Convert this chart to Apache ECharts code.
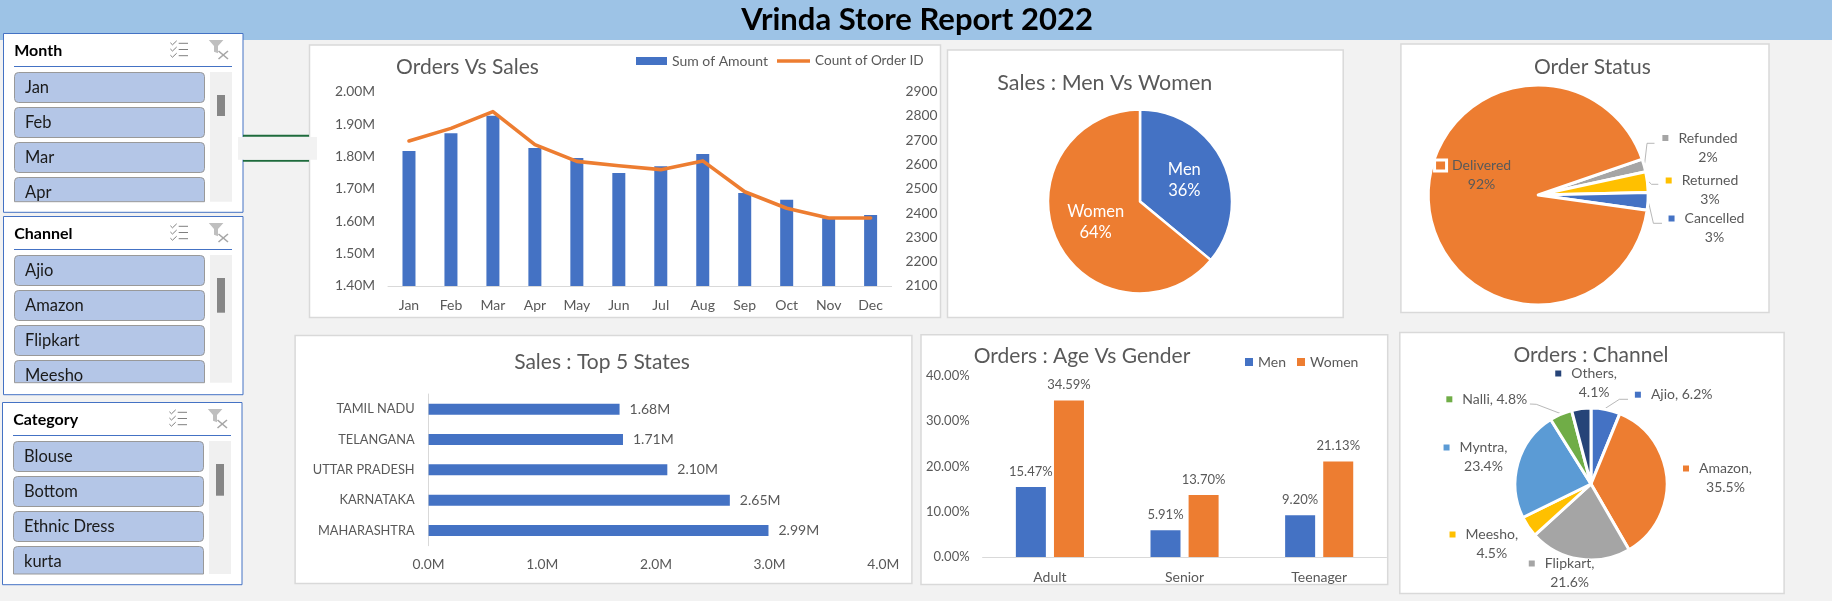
<!DOCTYPE html>
<html><head><meta charset="utf-8">
<script src="https://cdn.jsdelivr.net/npm/echarts@6/dist/echarts.min.js"></script>
<style>html,body{margin:0;padding:0;background:#F2F2F2}#c{width:1832px;height:601px}</style>
</head><body><div id="c"></div>
<script>
// ---- data ----
var months = ['Jan','Feb','Mar','Apr','May','Jun','Jul','Aug','Sep','Oct','Nov','Dec'];
var amount = [1817000,1872000,1926000,1826000,1795000,1749000,1770000,1808000,1687000,1666000,1609000,1619000];
var orders = [2697,2749,2818,2682,2613,2595,2579,2615,2488,2420,2380,2380];
var genderNames = ['Men','Women'];
var genderSales = [36,64];
var statusNames = ['Refunded','Returned','Cancelled','Delivered'];
var statusValues = [1.9,3.0,2.6,92.5];
var stateNames = ['TAMIL NADU','TELANGANA','UTTAR PRADESH','KARNATAKA','MAHARASHTRA'];
var stateSales = [1.68,1.71,2.10,2.65,2.99];
var ageGroups = ['Adult','Senior','Teenager'];
var ageMen = [15.47,5.91,9.20];
var ageWomen = [34.59,13.70,21.13];
var channelNames = ['Ajio','Amazon','Flipkart','Meesho','Myntra','Nalli','Others'];
var channelValues = [6.2,35.5,21.6,4.5,23.4,4.8,4.1];
var monthSlicer = ['Jan','Feb','Mar','Apr'];
var channelSlicer = ['Ajio','Amazon','Flipkart','Meesho'];
var categorySlicer = ['Blouse','Bottom','Ethnic Dress','kurta'];

// ---- style / layout ----
var FONT='Lato', TXT='#595959', BLUE='#4472C4', ORANGE='#ED7D31', EDGE='#D9D9D9';
var statusColors=['#A5A5A5','#FFC000',BLUE,ORANGE];
var channelColors=[BLUE,ORANGE,'#A5A5A5','#FFC000','#5B9BD5','#70AD47','#264478'];
var channelInline=['Ajio','Nalli'];
var statusLabelAt={Refunded:[1708,147.5,[[1644.7,163.3],[1647,143.3],[1654.5,143.3]]],
  Returned:[1710,190,[[1648.8,181.7],[1651.5,184.3],[1658.3,184.3]]],
  Cancelled:[1714.5,228,[[1648.8,203.3],[1653.4,223.3],[1662,223.3]]],
  Delivered:[1481.6,175]};
var channelLabelAt={Ajio:[1681.7,394.7,[[1605.4,408.3],[1619.4,399.3],[1628,399.3]]],
  Amazon:[1725.5,478],Flipkart:[1569.6,573],Meesho:[1491.8,544],Myntra:[1483.5,457],
  Nalli:[1494.8,399.3,[[1529.9,404],[1536.3,404.3],[1560.9,413.7]]],Others:[1594.1,383]};

function panel(x0,y0,x1,y1){return {type:'rect',silent:true,z:0,shape:{x:x0+.5,y:y0+.5,width:x1-x0,height:y1-y0},style:{fill:'#fff',stroke:EDGE,lineWidth:1.5}};}
var g=[];
g.push({type:'rect',silent:true,z:0,shape:{x:0,y:0,width:1832,height:40},style:{fill:'#9DC3E6'}});
[[309,44.5,940,317],[947,49.5,1342.7,317],[1400.4,43.5,1768.5,312],[294.6,335,911.4,583],[920.5,334.3,1387.2,584],[1399.3,332,1783.6,593]].forEach(function(p){g.push(panel(p[0],p[1],p[2],p[3]));});

function slicer(title,items,ox,oy,bottom,clipY,thumbY,thumbH){
  var z=1;
  g.push({type:'rect',silent:true,z:z,shape:{x:ox+3.5,y:oy+33.5,width:239.5,height:bottom-oy-33.5},style:{fill:'#fff',stroke:BLUE,lineWidth:1}});
  g.push({type:'text',silent:true,z:z,style:{x:ox+14.2,y:oy+50.7,text:title,fill:'#000',font:'bold 16px '+FONT,verticalAlign:'middle'}});
  g.push({type:'line',silent:true,z:z,shape:{x1:ox+14,y1:oy+66.5,x2:ox+232,y2:oy+66.5},style:{stroke:BLUE,lineWidth:1}});
  // track + thumb
  g.push({type:'rect',silent:true,z:z,shape:{x:ox+210,y:oy+72,width:22,height:clipY-oy-72},style:{fill:'#F0F0F0'}});
  g.push({type:'rect',silent:true,z:z,shape:{x:ox+217,y:thumbY,width:8,height:thumbH},style:{fill:'#868686'}});
  // buttons
  items.forEach(function(t,i){
    var y=oy+72.5+35*i, h=Math.min(30,clipY-y);
    g.push({type:'rect',silent:true,z:z,shape:{x:ox+14.5,y:y,width:190,height:h,r:h<30?[4,4,0,0]:4},style:{fill:'#B4C6E7',stroke:'#999999',lineWidth:1}});
    g.push({type:'text',silent:true,z:z,style:{x:ox+25,y:y+15,text:t,fill:'#1a1a1a',font:'16.5px '+FONT,verticalAlign:'middle'}});
  });
  // multi-select icon
  [43.3,49.5,55.7].forEach(function(ry){
    g.push({type:'polyline',silent:true,z:z,shape:{points:[[ox+170.4,oy+ry-.5],[ox+172.5,oy+ry+1.5],[ox+176.7,oy+ry-2.5]]},style:{stroke:'#7F7F7F',fill:null,lineWidth:1}});
    g.push({type:'line',silent:true,z:z,shape:{x1:ox+178.7,y1:oy+ry,x2:ox+188,y2:oy+ry},style:{stroke:'#7F7F7F',lineWidth:1}});
  });
  // clear-filter icon
  g.push({type:'polygon',silent:true,z:z,shape:{points:[[ox+208.8,oy+40],[ox+223.4,oy+40],[ox+218,oy+46],[ox+218,oy+53.3],[ox+214,oy+51.7],[ox+214,oy+46]]},style:{fill:'#BFBFBF'}});
  g.push({type:'line',silent:true,z:z,shape:{x1:ox+218.5,y1:oy+51,x2:ox+228,y2:oy+59},style:{stroke:'#A6A6A6',lineWidth:1.6}});
  g.push({type:'line',silent:true,z:z,shape:{x1:ox+228,y1:oy+51,x2:ox+218.5,y2:oy+59},style:{stroke:'#A6A6A6',lineWidth:1.6}});
}
slicer('Month',monthSlicer,0,0,212.3,201.7,95,21);
slicer('Channel',channelSlicer,0,183,394.7,382.7,278,34.7);
slicer('Category',categorySlicer,-1,369,584.7,574,464,31.7);

// slicer connector
g.push({type:'line',silent:true,z:1,shape:{x1:243,y1:135.7,x2:309,y2:135.7},style:{stroke:'#1E6B3C',lineWidth:2}});
g.push({type:'line',silent:true,z:1,shape:{x1:243,y1:160.7,x2:309,y2:160.7},style:{stroke:'#1E6B3C',lineWidth:2}});
g.push({type:'rect',silent:true,z:1,shape:{x:238,y:137,width:79,height:22.7},style:{fill:'#F2F2F2'}});

function ttl(text,cx,cy,size){return {text:text,left:cx,top:cy,padding:0,textAlign:'center',textVerticalAlign:'middle',textStyle:{fontFamily:FONT,fontWeight:'normal',fontSize:size||21,color:TXT}};}
function ax(o){return Object.assign({fontFamily:FONT,fontSize:13.8,color:TXT},o||{});}
var noTick={show:false}, noSplit={show:false};
var axisEdge={show:true,lineStyle:{color:EDGE,width:1}};

function keyRich(colors){
  var r={t:{fontFamily:FONT,fontSize:14,color:TXT,lineHeight:19},g:{width:10,height:6},e:{width:6,height:6}};
  colors.forEach(function(c,i){r['k'+i]={width:6,height:6,backgroundColor:c};});
  return r;
}
function pctFmt(p){
  var s=p.dataIndex===3?'3':'';
  return '{k'+p.dataIndex+'|}{g'+s+'|}{t|'+p.name+'}{g'+s+'|}{e'+s+'|}\n{t|'+p.percent+'%}';
}
function chFmt(p){
  var head='{k'+p.dataIndex+'|}{g|}{t|'+p.name+','+(channelInline.indexOf(p.name)>=0?' '+p.value+'%':'')+'}{g|}{e|}';
  return channelInline.indexOf(p.name)>=0?head:head+'\n{t|'+p.value+'%}';
}
function placer(map,names){return function(p){var m=map[names[p.dataIndex]];var o={x:m[0],y:m[1],align:'center',verticalAlign:'middle'};if(m[2])o.labelLinePoints=m[2];return o;};}

var statusRich=keyRich(statusColors);
statusRich.k3={width:9,height:8,backgroundColor:ORANGE,borderColor:'#fff',borderWidth:3};
statusRich.g3={width:7,height:6};
statusRich.e3={width:9,height:6};

var option={
  animation:false,
  backgroundColor:'#F2F2F2',
  title:[
    {text:'Vrinda Store Report 2022',left:917,top:20,padding:0,textAlign:'center',textVerticalAlign:'middle',textStyle:{fontFamily:FONT,fontWeight:'bold',fontSize:31,color:'#000'}},
    ttl('Orders Vs Sales',467.5,67.7),ttl('Sales : Men Vs Women',1104.8,82.7,21.5),ttl('Order Status',1592.4,67.7),
    ttl('Sales : Top 5 States',602,362.7),ttl('Orders : Age Vs Gender',1082,356.7),ttl('Orders : Channel',1591,355.7)
  ],
  legend:[
    {data:['Sum of Amount'],left:636,top:54,itemWidth:31,itemHeight:8,textStyle:ax({fontSize:14}),icon:'rect',padding:0},
    {data:['Count of Order ID'],left:777,top:54,itemWidth:33,itemHeight:3.5,icon:'rect',textStyle:ax({fontSize:13.6}),padding:0},
    {data:genderNames,left:1245,top:355,itemWidth:8,itemHeight:8,itemGap:11,icon:'rect',textStyle:ax({fontSize:14}),padding:0}
  ],
  grid:[
    {left:388,top:91.7,width:503.6,height:194.3},
    {left:428.6,top:394,width:454.7,height:151.7},
    {left:982.6,top:376,width:403.9,height:181}
  ],
  xAxis:[
    {gridIndex:0,type:'category',data:months,axisLine:axisEdge,axisTick:noTick,axisLabel:ax({margin:12.5,fontSize:14})},
    {gridIndex:1,type:'value',min:0,max:4,interval:1,splitLine:noSplit,axisLine:{show:false},axisTick:noTick,axisLabel:ax({margin:12,formatter:function(v){return v.toFixed(1)+'M';}})},
    {gridIndex:2,type:'category',data:ageGroups,axisLine:axisEdge,axisTick:noTick,axisLabel:ax({margin:13,fontSize:14})}
  ],
  yAxis:[
    {gridIndex:0,type:'value',min:1400000,max:2000000,interval:100000,splitLine:noSplit,axisLine:{show:false},axisTick:noTick,axisLabel:ax({margin:13,formatter:function(v){return (v/1e6).toFixed(2)+'M';}})},
    {gridIndex:0,type:'value',position:'right',min:2100,max:2900,interval:100,splitLine:noSplit,axisLine:{show:false},axisTick:noTick,axisLabel:ax({margin:14,formatter:function(v){return String(v);}})},
    {gridIndex:1,type:'category',inverse:true,data:stateNames,axisLine:axisEdge,axisTick:noTick,axisLabel:ax({margin:14,fontSize:12.8})},
    {gridIndex:2,type:'value',min:0,max:40,interval:10,splitLine:noSplit,axisLine:{show:false},axisTick:noTick,axisLabel:ax({margin:13,fontSize:13,formatter:function(v){return v.toFixed(2)+'%';}})}
  ],
  series:[
    {name:'Sum of Amount',type:'bar',xAxisIndex:0,yAxisIndex:0,data:amount,barWidth:13,itemStyle:{color:BLUE}},
    {name:'Count of Order ID',type:'line',xAxisIndex:0,yAxisIndex:1,data:orders,symbol:'none',smooth:false,lineStyle:{color:ORANGE,width:3.6,cap:'round',join:'round'},itemStyle:{color:ORANGE}},
    {type:'pie',name:'gender',center:[1140,201.5],radius:[0,92],startAngle:90,data:genderNames.map(function(n,i){return {name:n,value:genderSales[i],itemStyle:{color:i?ORANGE:BLUE}};}),
      itemStyle:{borderColor:'#fff',borderWidth:2.5},label:{position:'inside',formatter:'{b}\n{d}%',color:'#fff',fontFamily:FONT,fontSize:16.5,lineHeight:21},percentPrecision:0,labelLine:{show:false},emphasis:{disabled:true}},
    {type:'pie',name:'status',center:[1538.2,195],radius:[0,110],startAngle:19,percentPrecision:0,data:statusNames.map(function(n,i){return {name:n,value:statusValues[i],itemStyle:{color:statusColors[i]},labelLine:{show:!!statusLabelAt[n][2]}};}),
      itemStyle:{borderColor:'#fff',borderWidth:3},label:{position:'outside',formatter:pctFmt,rich:statusRich},labelLine:{show:true,lineStyle:{color:'#A6A6A6',width:.8}},labelLayout:placer(statusLabelAt,statusNames),emphasis:{disabled:true}},
    {name:'Sales',type:'bar',xAxisIndex:1,yAxisIndex:2,data:stateSales,barWidth:11,itemStyle:{color:BLUE},label:{show:true,position:'right',distance:10,fontFamily:FONT,fontSize:14,color:TXT,formatter:function(p){return p.value.toFixed(2)+'M';}}},
    {name:'Men',type:'bar',xAxisIndex:2,yAxisIndex:3,data:ageMen,barWidth:30,barGap:'27%',itemStyle:{color:BLUE},label:{show:true,position:'top',distance:9,fontFamily:FONT,fontSize:13,color:TXT,formatter:function(p){return p.value.toFixed(2)+'%';}}},
    {name:'Women',type:'bar',xAxisIndex:2,yAxisIndex:3,data:ageWomen,barWidth:30,barGap:'27%',itemStyle:{color:ORANGE},label:{show:true,position:'top',distance:9,fontFamily:FONT,fontSize:13,color:TXT,formatter:function(p){return p.value.toFixed(2)+'%';}}},
    {type:'pie',name:'channel',center:[1591,484],radius:[0,76],startAngle:90,data:channelNames.map(function(n,i){return {name:n,value:channelValues[i],itemStyle:{color:channelColors[i]},labelLine:{show:!!channelLabelAt[n][2]}};}),
      itemStyle:{borderColor:'#fff',borderWidth:3},label:{position:'outside',formatter:chFmt,rich:keyRich(channelColors)},labelLine:{show:true,lineStyle:{color:'#A6A6A6',width:.8}},labelLayout:placer(channelLabelAt,channelNames),emphasis:{disabled:true}}
  ],
  graphic:{elements:g}
};
echarts.init(document.getElementById('c'),null,{renderer:'canvas'}).setOption(option);
</script></body></html>
